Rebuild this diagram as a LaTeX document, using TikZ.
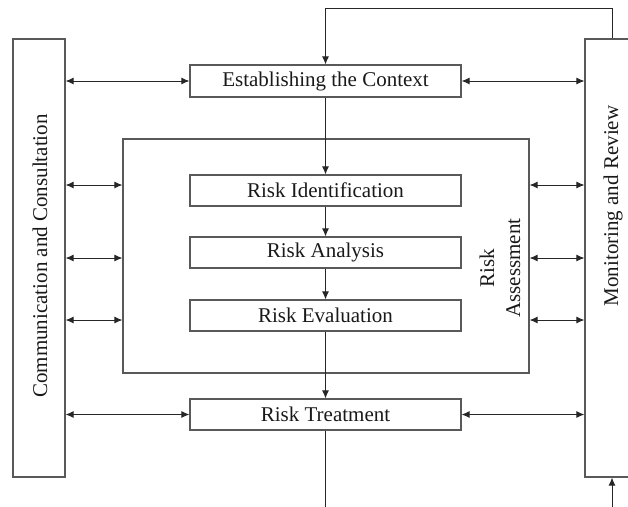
\documentclass[tikz,border=0pt]{standalone}
\usepackage{fontspec}
\setmainfont{Liberation Serif}
\usetikzlibrary{arrows.meta}
\begin{document}
\begin{tikzpicture}[x=1pt,y=-1pt,
  box/.style={draw=black!65, line width=1.1pt, inner sep=0pt},
  lbl/.style={font=\fontsize{21}{26}\selectfont, inner sep=0pt, text=black!90},
  arr/.style={draw=black!85, line width=1pt, -{Latex[length=8pt,width=7pt]}},
  darr/.style={draw=black!85, line width=1pt, {Latex[length=8pt,width=7pt]}-{Latex[length=8pt,width=7pt]}},
  ln/.style={draw=black!85, line width=1pt}]
\useasboundingbox (0,0) rectangle (628,506);
\begin{scope}
\clip (0,0) rectangle (628,506);
% side boxes
\node[box, minimum width=52pt, minimum height=438pt] (comm) at (39,258) {};
\node[lbl, rotate=90] (commt) at (40,256) {Communication and Consultation};
\node[box, minimum width=60pt, minimum height=438pt] (mon) at (615,258) {};
\node[lbl, rotate=90] (mont) at (613,206) {Monitoring and Review};
% assessment frame
\node[box, minimum width=406pt, minimum height=234pt] (assess) at (326,256) {};
\node[lbl, rotate=90, align=center] (assesst) at (500,268) {Risk\\Assessment};
% process boxes
\node[box, lbl, minimum width=271pt, minimum height=32pt] (ctx) at (325.5,81) {Establishing the Context};
\node[box, lbl, minimum width=271pt, minimum height=31pt] (ident) at (325.5,190.5) {Risk Identification};
\node[box, lbl, minimum width=271pt, minimum height=31pt] (anal) at (325.5,252.5) {Risk Analysis};
\node[box, lbl, minimum width=271pt, minimum height=31pt] (eval) at (325.5,315.5) {Risk Evaluation};
\node[box, lbl, minimum width=271pt, minimum height=31pt] (treat) at (325.5,414.5) {Risk Treatment};
% vertical flow
\draw[arr] (ctx.south) -- (ident.north);
\draw[arr] (ident.south) -- (anal.north);
\draw[arr] (anal.south) -- (eval.north);
\draw[arr] (eval.south) -- (treat.north);
% feedback loops
\coordinate (tr) at (612,8);
\coordinate (tl) at (325.5,8);
\draw[arr] (tr |- mon.north) -- (tr) -- (tl) -- (ctx.north);
\coordinate (bl) at (325.5,530);
\coordinate (br) at (612,530);
\draw[arr] (treat.south) -- (bl) -- (br) -- (br |- mon.south);
% side arrows
\draw[darr] (comm.east |- ctx.west) -- (ctx.west);
\draw[darr] (ctx.east) -- (mon.west |- ctx.east);
\draw[darr] (treat.west -| comm.east) -- (treat.west);
\draw[darr] (treat.east) -- (mon.west |- treat.east);
\foreach \yy in {185,258,320}{
  \draw[darr] (comm.east |- 0,\yy) -- (assess.west |- 0,\yy);
  \draw[darr] (assess.east |- 0,\yy) -- (mon.west |- 0,\yy);
}
\end{scope}
\end{tikzpicture}
\end{document}
